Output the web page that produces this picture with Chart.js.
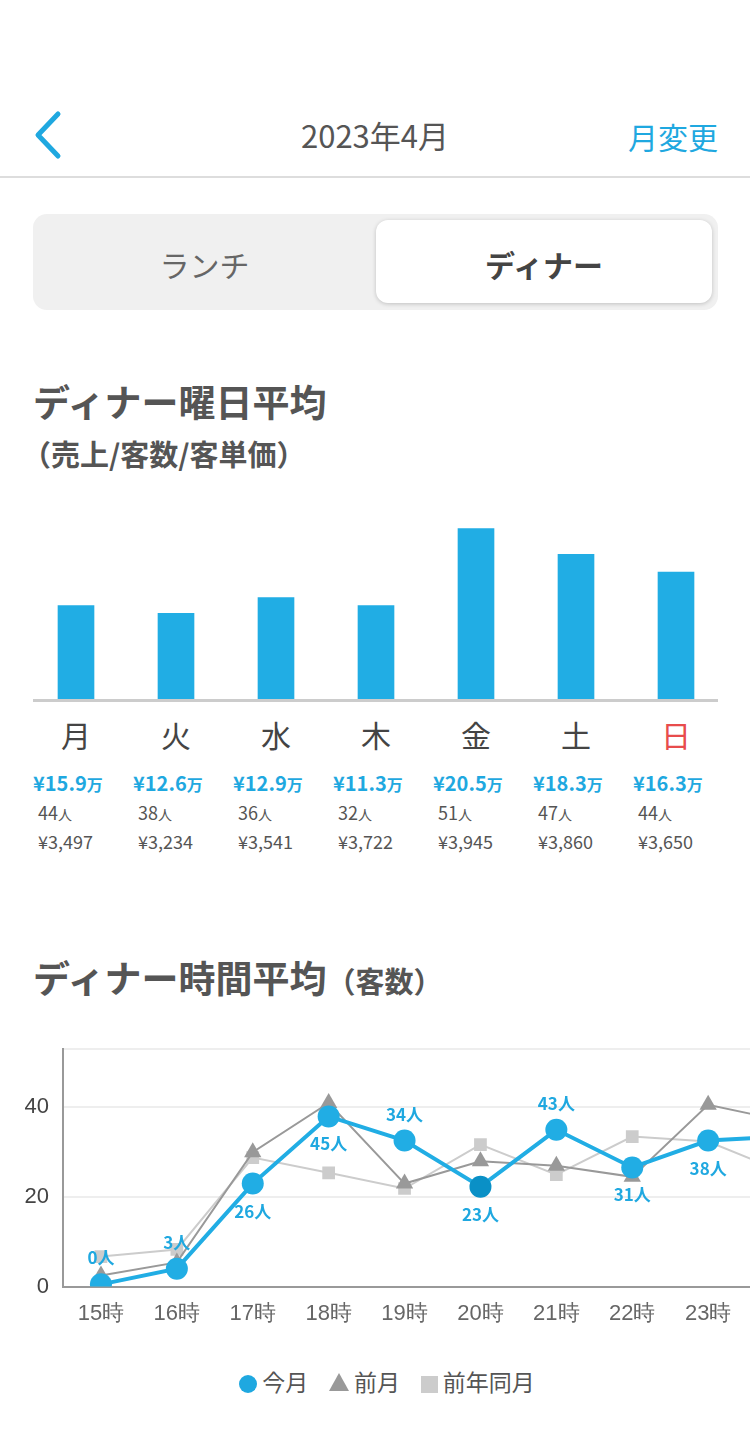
<!DOCTYPE html>
<html><head><meta charset="utf-8">
<script src="https://cdn.jsdelivr.net/npm/chart.js@4/dist/chart.umd.min.js"></script>
<style>
body{margin:0;width:750px;height:1454px;background:#fff;font-family:"Noto Sans CJK JP","Noto Sans",sans-serif;position:relative;overflow:hidden;color:#555}
.abs{position:absolute}
.seg{left:33px;top:214px;width:685px;height:96px;background:#f0f0f0;border-radius:14px}
.on{left:376px;top:220px;width:336px;height:83px;background:#fff;border-radius:12px;box-shadow:0 1px 4px rgba(0,0,0,.2)}
.h{font-weight:bold;color:#555}
.col{position:absolute;top:712px;width:100px}
</style></head><body>
<svg class="abs" style="left:30px;top:110px" width="34" height="50"><polyline points="28,4 8,25 28,46" fill="none" stroke="#1fa8e0" stroke-width="5" stroke-linecap="round" stroke-linejoin="round"/></svg>
<div class="abs" style="left:0;width:750px;top:112px;text-align:center;font-size:31px;color:#555">2023年4月</div>
<div class="abs" style="right:32px;top:114px;font-size:30px;color:#1fa8e0">月変更</div>
<div class="abs" style="left:0;top:176px;width:750px;height:2px;background:#ddd"></div>
<div class="abs seg"></div><div class="abs on"></div>
<div class="abs" style="left:33px;width:343px;top:242px;text-align:center;font-size:30px;color:#666">ランチ</div>
<div class="abs h" style="left:376px;width:336px;top:242px;text-align:center;font-size:30px;color:#444">ディナー</div>
<div class="abs h" style="left:33px;top:374px;font-size:37px">ディナー曜日平均</div>
<div class="abs h" style="left:22px;top:432px;font-size:29px">（売上/客数/客単価）</div>
<div class="abs" style="left:26px;top:504px;width:700px;height:205px"><canvas id="bar"></canvas></div>
<div class="abs" style="left:33px;top:699px;width:685px;height:3px;background:#ccc"></div>
<div id="cols"></div>
<div class="abs h" style="left:33px;top:950px;font-size:37px">ディナー時間平均<span style="font-size:29px">（客数）</span></div>
<div class="abs" style="left:0;top:1022px;width:833px;height:311px"><canvas id="line"></canvas></div>
<div class="abs" style="left:0;width:750px;top:1364px;text-align:center;font-size:23px;color:#555;padding-left:12px">
<span style="display:inline-block;width:18px;height:18px;border-radius:50%;background:#1fa8e0;vertical-align:-2px"></span> 今月&nbsp;&nbsp;&nbsp;
<span style="display:inline-block;width:0;height:0;border-left:10px solid transparent;border-right:10px solid transparent;border-bottom:18px solid #999;vertical-align:0"></span> 前月&nbsp;&nbsp;&nbsp;
<span style="display:inline-block;width:17px;height:17px;background:#ccc;vertical-align:-2px"></span> 前年同月</div>
<script>
const days = ['月','火','水','木','金','土','日'];
const barHeights = [97, 89, 105, 97, 175, 149, 131];
const sales = ['¥15.9万','¥12.6万','¥12.9万','¥11.3万','¥20.5万','¥18.3万','¥16.3万'];
const guests = ['44人','38人','36人','32人','51人','47人','44人'];
const perGuest = ['¥3,497','¥3,234','¥3,541','¥3,722','¥3,945','¥3,860','¥3,650'];

const hours = ['15時','16時','17時','18時','19時','20時','21時','22時','23時','24時'];
const thisMonth = [0.5, 4, 23, 38, 32.6, 22.3, 35, 26.6, 32.6, 33.5];
const lastMonth = [2.5, 5.4, 30, 41, 23, 28, 27, 24.5, 40.6, 37];
const lastYear = [6.7, 8.3, 28.8, 25.4, 21.9, 31.7, 25, 33.5, 32.4, 25.5];
const pointLabels = ['0人','3人','26人','45人','34人','23人','43人','31人','38人',''];
const labelAbove = [true, true, false, false, true, false, true, false, false, false];

let html = '';
days.forEach((d, i) => {
  const x = 33 + i * 100;
  html += `<div class="col" style="left:${x}px">
  <div style="width:86px;text-align:center;font-size:30px;color:${i==6?'#e84c4c':'#444'}">${d}</div>
  <div style="margin-top:12px;font-size:20px;font-weight:bold;color:#1fa8e0;white-space:nowrap">${sales[i].slice(0,-1)}<span style="font-size:16px">万</span></div>
  <div style="margin-left:5px;margin-top:2px;font-size:18px;color:#555">${guests[i].slice(0,-1)}<span style="font-size:14px">人</span></div>
  <div style="margin-left:5px;margin-top:3px;font-size:18px;color:#555">${perGuest[i]}</div></div>`;
});
document.getElementById('cols').innerHTML = html;

new Chart(document.getElementById('bar'), {
  type: 'bar',
  data: { labels: days, datasets: [{ data: barHeights, backgroundColor: '#21ade4', barThickness: 36 }] },
  options: {
    responsive: true, maintainAspectRatio: false, animation: false,
    plugins: { legend: { display: false }, tooltip: { enabled: false } },
    scales: {
      x: { grid: { display: false }, border: { display: false }, ticks: { display: false } },
      y: { display: false, min: 0, max: 200 }
    }
  }
});

const labelPlugin = {
  id: 'labels',
  afterDatasetsDraw(chart) {
    const { ctx } = chart;
    const meta = chart.getDatasetMeta(0);
    ctx.save();
    ctx.font = 'bold 17px "Noto Sans CJK JP"';
    ctx.fillStyle = '#1fa8e0';
    ctx.textAlign = 'center';
    meta.data.forEach((p, i) => {
      if (!pointLabels[i]) return;
      ctx.fillText(pointLabels[i], p.x, labelAbove[i] ? p.y - 20 : p.y + 34);
    });
    ctx.restore();
  }
};

new Chart(document.getElementById('line'), {
  type: 'line',
  data: {
    labels: hours,
    datasets: [
      { data: thisMonth, borderColor: '#21ade4', borderWidth: 4, pointRadius: 11,
        pointBackgroundColor: thisMonth.map((v, i) => i == 5 ? '#0a90c6' : '#21ade4'), pointBorderWidth: 0, order: 0 },
      { data: lastMonth, borderColor: '#999', borderWidth: 2, pointStyle: 'triangle', pointRadius: 10,
        pointBackgroundColor: '#999', pointBorderWidth: 0, order: 1 },
      { data: lastYear, borderColor: '#ccc', borderWidth: 2, pointStyle: 'rect', pointRadius: 9,
        pointBackgroundColor: '#ccc', pointBorderWidth: 0, order: 2 }
    ]
  },
  options: {
    responsive: true, maintainAspectRatio: false, animation: false,
    layout: { padding: { top: 8 } },
    plugins: { legend: { display: false }, tooltip: { enabled: false } },
    scales: {
      x: { offset: true, grid: { display: false }, border: { color: '#999', width: 2 },
        ticks: { color: '#666', font: { size: 22 }, padding: 6 } },
      y: { min: 0, max: 53, afterFit(s) { s.width = 63; },
        grid: { color: '#eee', lineWidth: 2, drawTicks: false }, border: { color: '#999', width: 2 },
        ticks: { stepSize: 20, color: '#444', font: { size: 22 }, padding: 14,
          callback: v => v % 20 === 0 ? v : '' } }
    }
  },
  plugins: [labelPlugin]
});
</script>
</body></html>
